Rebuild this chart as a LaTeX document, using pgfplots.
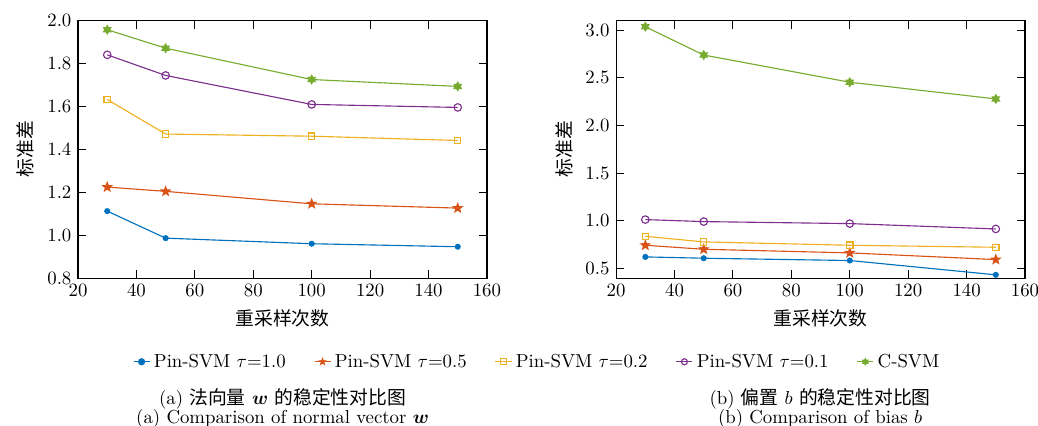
\documentclass[border=0pt]{standalone}
\usepackage{fontspec}
\usepackage{bm}
\usepackage{pgfplots}
\usepackage{pgfplotstable}
\pgfplotsset{compat=1.18}
\newfontfamily\cjk{Noto Sans CJK SC}
\definecolor{c1}{RGB}{0,114,189}
\definecolor{c2}{RGB}{217,83,25}
\definecolor{c3}{RGB}{237,177,32}
\definecolor{c4}{RGB}{126,47,142}
\definecolor{c5}{RGB}{119,172,48}
\pgfdeclareplotmark{fstar}{%
 \pgfpathmoveto{\pgfpointpolar{90}{\pgfplotmarksize}}%
 \pgfpathlineto{\pgfpointpolar{126}{0.42\pgfplotmarksize}}%
 \pgfpathlineto{\pgfpointpolar{162}{\pgfplotmarksize}}%
 \pgfpathlineto{\pgfpointpolar{198}{0.42\pgfplotmarksize}}%
 \pgfpathlineto{\pgfpointpolar{234}{\pgfplotmarksize}}%
 \pgfpathlineto{\pgfpointpolar{270}{0.42\pgfplotmarksize}}%
 \pgfpathlineto{\pgfpointpolar{306}{\pgfplotmarksize}}%
 \pgfpathlineto{\pgfpointpolar{342}{0.42\pgfplotmarksize}}%
 \pgfpathlineto{\pgfpointpolar{18}{\pgfplotmarksize}}%
 \pgfpathlineto{\pgfpointpolar{54}{0.42\pgfplotmarksize}}%
 \pgfpathclose\pgfusepathqfillstroke}
\pgfdeclareplotmark{hexstar}{%
 \pgfpathmoveto{\pgfpointpolar{90}{\pgfplotmarksize}}%
 \pgfpathlineto{\pgfpointpolar{120}{0.58\pgfplotmarksize}}%
 \pgfpathlineto{\pgfpointpolar{150}{\pgfplotmarksize}}%
 \pgfpathlineto{\pgfpointpolar{180}{0.58\pgfplotmarksize}}%
 \pgfpathlineto{\pgfpointpolar{210}{\pgfplotmarksize}}%
 \pgfpathlineto{\pgfpointpolar{240}{0.58\pgfplotmarksize}}%
 \pgfpathlineto{\pgfpointpolar{270}{\pgfplotmarksize}}%
 \pgfpathlineto{\pgfpointpolar{300}{0.58\pgfplotmarksize}}%
 \pgfpathlineto{\pgfpointpolar{330}{\pgfplotmarksize}}%
 \pgfpathlineto{\pgfpointpolar{0}{0.58\pgfplotmarksize}}%
 \pgfpathlineto{\pgfpointpolar{30}{\pgfplotmarksize}}%
 \pgfpathlineto{\pgfpointpolar{60}{0.58\pgfplotmarksize}}%
 \pgfpathclose\pgfusepathqfillstroke}

\pgfplotstableread{
x t10 t05 t02 t01 csvm
30 1.112 1.224 1.632 1.840 1.957
50 0.986 1.204 1.471 1.744 1.871
100 0.960 1.146 1.461 1.609 1.725
150 0.946 1.126 1.441 1.595 1.693
}\leftdata
\pgfplotstableread{
x t10 t05 t02 t01 csvm
30 0.622 0.744 0.838 1.013 3.035
50 0.608 0.702 0.779 0.992 2.738
100 0.584 0.664 0.744 0.971 2.453
150 0.434 0.594 0.723 0.915 2.278
}\rightdata

\pgfplotsset{
  myaxis/.style={
    scale only axis, width=217.5pt, height=137pt,
    xmin=20, xmax=160, xtick={20,40,...,160},
    minor tick num=0,
    tick style={black, line width=0.5pt},
    axis line style={line width=0.6pt},
    yticklabel style={/pgf/number format/.cd, fixed, fixed zerofill, precision=1},
    xlabel={\cjk 重采样次数},
    ylabel={\cjk 标准差},
    every axis plot/.append style={line width=0.6pt},
  },
  s1/.style={c1, mark=*, mark size=1.3pt, mark options={fill=c1}},
  s2/.style={c2, mark=fstar, mark size=2.4pt, mark options={fill=c2}},
  s3/.style={c3, mark=square, mark size=1.7pt},
  s4/.style={c4, mark=o, mark size=2pt},
  s5/.style={c5, mark=hexstar, mark size=2.2pt, mark options={fill=c5}},
}

\begin{document}
\begin{tikzpicture}
\path[use as bounding box] (-41.5pt,-78.2pt) rectangle (510.6pt,147.9pt);
\begin{axis}[myaxis,
  ymin=0.8, ymax=2.0, ytick={0.8,1.0,...,2.0},
  legend columns=5,
  legend style={at={(1.125,-0.325)}, anchor=center, draw=none, fill=none,
    /tikz/every even column/.append style={column sep=13pt},
    font=\normalsize},
  legend image code/.code={\draw[mark repeat=2,mark phase=2,mark size=1.6pt] plot coordinates {(0cm,0cm) (0.15cm,0cm) (0.3cm,0cm)};},
]
\addplot[s1] table[x=x,y=t10] {\leftdata};
\addlegendentry{Pin-SVM $\tau$=1.0}
\addplot[s2] table[x=x,y=t05] {\leftdata};
\addlegendentry{Pin-SVM $\tau$=0.5}
\addplot[s3] table[x=x,y=t02] {\leftdata};
\addlegendentry{Pin-SVM $\tau$=0.2}
\addplot[s4] table[x=x,y=t01] {\leftdata};
\addlegendentry{Pin-SVM $\tau$=0.1}
\addplot[s5] table[x=x,y=csvm] {\leftdata};
\addlegendentry{C-SVM}
\end{axis}
\begin{axis}[myaxis, at={(286.2pt,0pt)},
  ymin=0.4, ymax=3.1, ytick={0.5,1.0,...,3.0},
]
\addplot[s1] table[x=x,y=t10] {\rightdata};
\addplot[s2] table[x=x,y=t05] {\rightdata};
\addplot[s3] table[x=x,y=t02] {\rightdata};
\addplot[s4] table[x=x,y=t01] {\rightdata};
\addplot[s5] table[x=x,y=csvm] {\rightdata};
\end{axis}
\node at (108.8pt,-64.5pt) {(a) {\cjk 法向量} $\bm{w}$ {\cjk 的稳定性对比图}};
\node at (108.8pt,-74.6pt) {(a) Comparison of normal vector $\bm{w}$};
\node at (394.7pt,-64.5pt) {(b) {\cjk 偏置} $b$ {\cjk 的稳定性对比图}};
\node at (394.7pt,-74.6pt) {(b) Comparison of bias $b$};
\end{tikzpicture}
\end{document}
